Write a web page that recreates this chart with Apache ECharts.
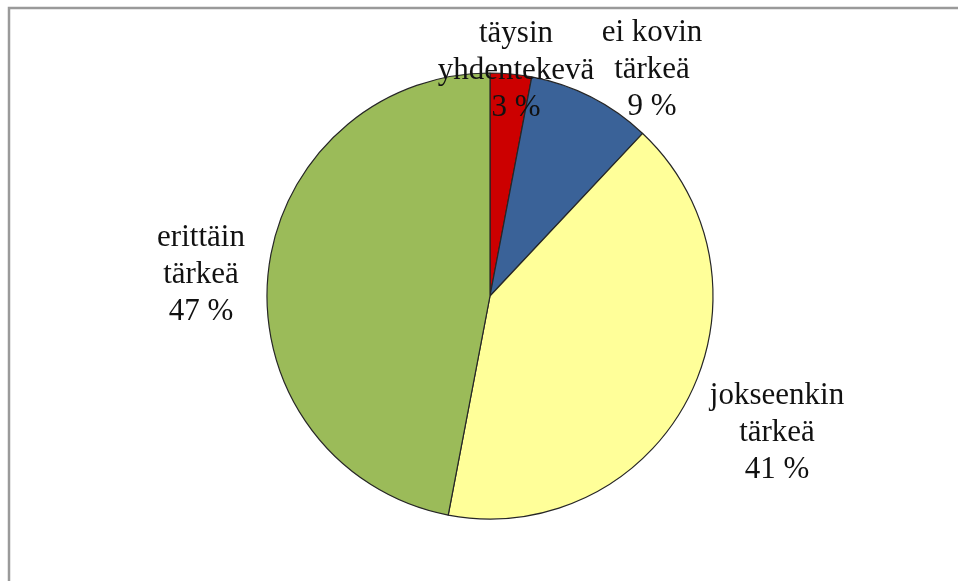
<!DOCTYPE html>
<html>
<head>
<meta charset="utf-8">
<script src="https://cdn.jsdelivr.net/npm/echarts@6/dist/echarts.min.js"></script>
<style>
  html, body { margin: 0; padding: 0; background: #fff; }
  #chart { width: 958px; height: 581px; }
</style>
</head>
<body>
<div id="chart"></div>
<script>
// Answer categories, in clockwise order starting from 12 o'clock
const categories = ['täysin\nyhdentekevä', 'ei kovin\ntärkeä', 'jokseenkin\ntärkeä', 'erittäin\ntärkeä'];
const shares = [3, 9, 41, 47];
const sliceColors = ['#CC0000', '#3A6298', '#FFFF99', '#9BBB59'];

// Where each label block is centred (chart pixels)
const labelAnchors = [[516, 71], [652, 70], [777, 433], [201, 275]];

const chart = echarts.init(document.getElementById('chart'));

chart.setOption({
  animation: false,
  graphic: [{
    type: 'rect',
    shape: { x: 9, y: 8, width: 980, height: 600 },
    style: { fill: 'none', stroke: '#9a9a9a', lineWidth: 2.5 },
    silent: true
  }],
  series: [{
    type: 'pie',
    center: [490, 296],
    radius: 223,
    startAngle: 90,
    clockwise: true,
    avoidLabelOverlap: false,
    itemStyle: { borderColor: '#262626', borderWidth: 1.2 },
    label: {
      show: true,
      position: 'outside',
      formatter: p => p.name + '\n' + p.value + ' %',
      fontFamily: '"Liberation Serif", "Times New Roman", serif',
      fontSize: 31,
      lineHeight: 37,
      color: '#111',
      align: 'center'
    },
    labelLine: { show: false },
    labelLayout: p => ({
      x: labelAnchors[p.dataIndex][0],
      y: labelAnchors[p.dataIndex][1],
      align: 'center',
      verticalAlign: 'middle'
    }),
    data: categories.map((name, i) => ({
      name: name,
      value: shares[i],
      itemStyle: { color: sliceColors[i] }
    }))
  }]
});
</script>
</body>
</html>
